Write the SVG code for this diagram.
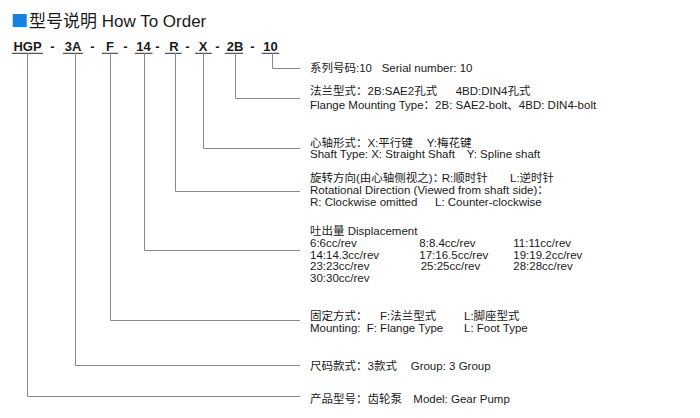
<svg xmlns="http://www.w3.org/2000/svg" width="700" height="418" viewBox="0 0 700 418">
<style>
text{font-family:"Liberation Sans","Noto Sans CJK SC",sans-serif;fill:#1a1a1a}
.t{font-size:17px}
.c{font-size:13px;font-weight:bold;text-anchor:middle}
.b{font-size:11.5px}
.ul{stroke:#555;stroke-width:1.2}
.cn{fill:none;stroke:#888;stroke-width:1}
</style>
<rect width="700" height="418" fill="#fff"/>
<g id="title">
<rect x="12.7" y="14" width="14" height="13" fill="#1a80dc"/>
<text class="t" x="29" y="26.5">型号说明 How To Order</text>
</g>
<g id="code">
<text class="c" x="27.5" y="50.5">HGP</text>
<text class="c" x="52.5" y="50.5">-</text>
<text class="c" x="73" y="50.5">3A</text>
<text class="c" x="92.5" y="50.5">-</text>
<text class="c" x="110" y="50.5">F</text>
<text class="c" x="125.5" y="50.5">-</text>
<text class="c" x="143.5" y="50.5">14</text>
<text class="c" x="157.5" y="50.5">-</text>
<text class="c" x="174" y="50.5">R</text>
<text class="c" x="187.5" y="50.5">-</text>
<text class="c" x="203" y="50.5">X</text>
<text class="c" x="217.5" y="50.5">-</text>
<text class="c" x="235" y="50.5">2B</text>
<text class="c" x="252.5" y="50.5">-</text>
<text class="c" x="270.5" y="50.5">10</text>
<path class="ul" d="M12,53.3H43M63,53.3H83M102,53.3H118M135,53.3H152.5M165,53.3H181.7M195,53.3H211.7M225,53.3H243M261.7,53.3H279.3"/>
</g>
<g id="connectors">
<path class="cn" d="M27.5,53V396.5H300"/>
<path class="cn" d="M75.5,53V365.5H300"/>
<path class="cn" d="M110.5,53V320.5H300"/>
<path class="cn" d="M144.5,53V250.5H300"/>
<path class="cn" d="M175.5,53V191.5H300"/>
<path class="cn" d="M203.5,53V148.5H300"/>
<path class="cn" d="M235.5,53V98.5H300"/>
<path class="cn" d="M272.5,53V68.5H300"/>
</g>
<g id="serial">
<text class="b" x="310" y="72">系列号码:10</text>
<text class="b" x="381.7" y="72">Serial number: 10</text>
</g>
<g id="flange">
<text class="b" x="310" y="95">法兰型式：2B:SAE2孔式</text>
<text class="b" x="455.7" y="95">4BD:DIN4孔式</text>
<text class="b" x="310" y="109">Flange Mounting Type：2B: SAE2-bolt、4BD: DIN4-bolt</text>
</g>
<g id="shaft">
<text class="b" x="310" y="146.7">心轴形式：X:平行键</text>
<text class="b" x="426.7" y="146.7">Y:梅花键</text>
<text class="b" x="310" y="158">Shaft Type: X: Straight Shaft</text>
<text class="b" x="466.7" y="158">Y: Spline shaft</text>
</g>
<g id="rotation">
<text class="b" x="310" y="181.7">旋转方向(由心轴侧视之)：</text>
<text class="b" x="441.7" y="181.7">R:顺时针</text>
<text class="b" x="510" y="181.7">L:逆时针</text>
<text class="b" x="310" y="193.5">Rotational Direction (Viewed from shaft side)：</text>
<text class="b" x="310" y="205.7">R: Clockwise omitted</text>
<text class="b" x="435" y="205.7">L: Counter-clockwise</text>
</g>
<g id="displacement">
<text class="b" x="310" y="235">吐出量 Displacement</text>
<text class="b" x="310" y="246.5">6:6cc/rev</text>
<text class="b" x="419.3" y="246.5">8:8.4cc/rev</text>
<text class="b" x="513.3" y="246.5">11:11cc/rev</text>
<text class="b" x="310" y="258.5">14:14.3cc/rev</text>
<text class="b" x="419.3" y="258.5">17:16.5cc/rev</text>
<text class="b" x="513.3" y="258.5">19:19.2cc/rev</text>
<text class="b" x="310" y="270.3">23:23cc/rev</text>
<text class="b" x="420.7" y="270.3">25:25cc/rev</text>
<text class="b" x="513.3" y="270.3">28:28cc/rev</text>
<text class="b" x="310" y="282">30:30cc/rev</text>
</g>
<g id="mounting">
<text class="b" x="310" y="319.5">固定方式：</text>
<text class="b" x="380" y="319.5">F:法兰型式</text>
<text class="b" x="464" y="319.5">L:脚座型式</text>
<text class="b" x="310" y="331.7">Mounting:</text>
<text class="b" x="366.7" y="331.7">F: Flange Type</text>
<text class="b" x="464" y="331.7">L: Foot Type</text>
</g>
<g id="group">
<text class="b" x="310" y="370">尺码款式：3款式</text>
<text class="b" x="410.7" y="370">Group: 3 Group</text>
</g>
<g id="model">
<text class="b" x="310" y="403.3">产品型号：齿轮泵</text>
<text class="b" x="413.3" y="403.3">Model: Gear Pump</text>
</g>
</svg>
